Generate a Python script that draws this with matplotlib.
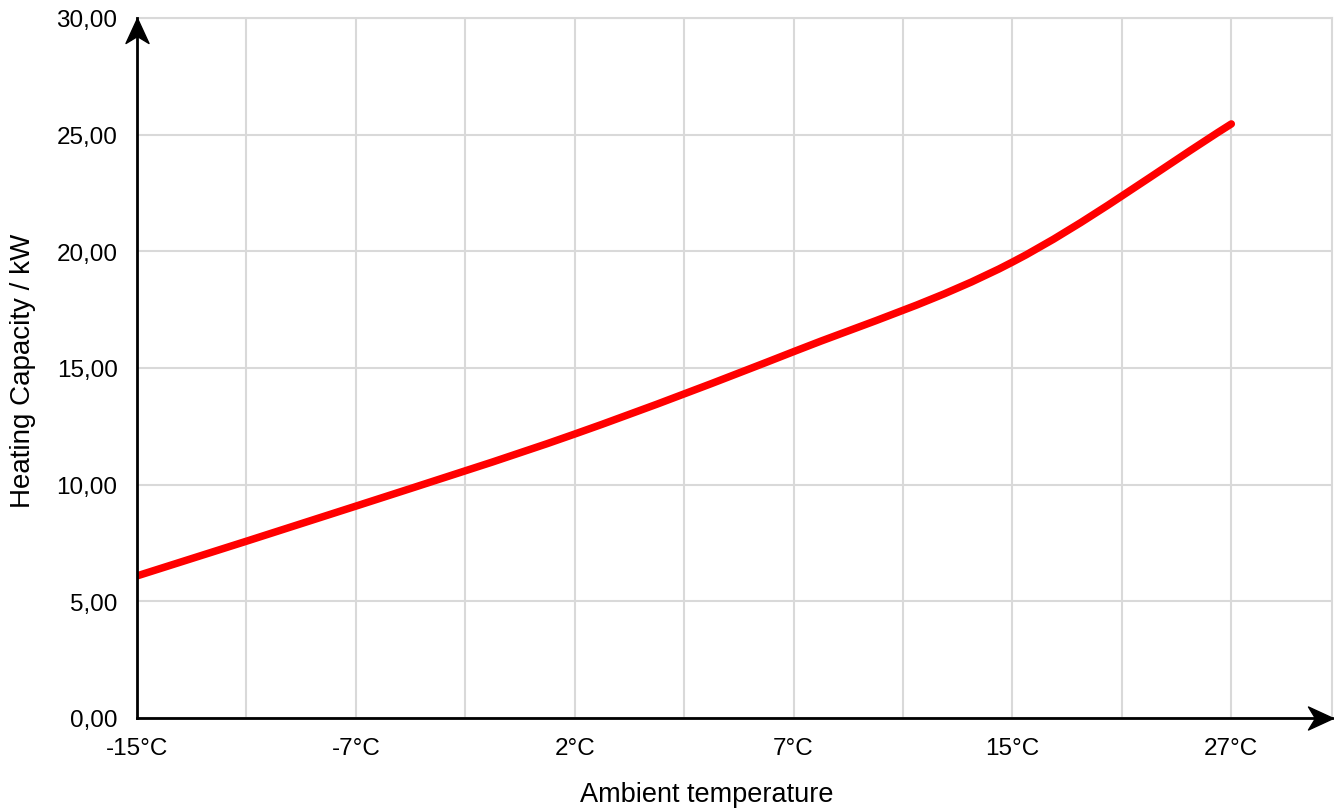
import numpy as np
import matplotlib
matplotlib.use("Agg")
import matplotlib.pyplot as plt
from matplotlib.path import Path
from matplotlib.patches import PathPatch
from matplotlib.ticker import FuncFormatter

plt.rcParams['font.family'] = ['Liberation Sans', 'DejaVu Sans']

# data
temperatures = ['-15°C', '-7°C', '2°C', '7°C', '15°C', '27°C']
capacity_kw = [6.09, 9.08, 12.17, 15.70, 19.54, 25.46]

x = np.arange(len(temperatures), dtype=float)
y = np.array(capacity_kw)

fig = plt.figure(figsize=(13.4, 8.12), dpi=100)
ax = fig.add_axes([137 / 1340, 93 / 812, (1332 - 137) / 1340, 700 / 812])

# smooth line (cubic bezier through the points)
m = np.gradient(y, x)
verts = [(x[0], y[0])]
codes = [Path.MOVETO]
for i in range(len(x) - 1):
    dx = x[i + 1] - x[i]
    verts += [(x[i] + dx / 3, y[i] + m[i] * dx / 3),
              (x[i + 1] - dx / 3, y[i + 1] - m[i + 1] * dx / 3),
              (x[i + 1], y[i + 1])]
    codes += [Path.CURVE4] * 3
line = PathPatch(Path(verts, codes), fill=False, edgecolor='#ff0000', lw=5.4, zorder=3)
line.set_capstyle('round')
ax.add_patch(line)

ax.set_xlim(0, 5.46)
ax.set_ylim(0, 30)
ax.set_xticks(x)
ax.set_xticklabels(temperatures)
ax.set_xticks(np.arange(0.5, 5.0, 1.0), minor=True)
ax.set_yticks(np.arange(0, 31, 5))
ax.yaxis.set_major_formatter(FuncFormatter(lambda v, p: f"{v:.2f}".replace('.', ',')))

ax.grid(True, which='both', color='#d9d9d9', lw=1.5)
ax.set_axisbelow(True)
ax.tick_params(which='both', length=0, labelsize=17.5, pad=14, colors='black')

for s in ['top', 'right']:
    ax.spines[s].set_color('#d9d9d9')
    ax.spines[s].set_linewidth(1.5)
for s in ['left', 'bottom']:
    ax.spines[s].set_color('black')
    ax.spines[s].set_linewidth(2)
    ax.spines[s].set_zorder(4)

# arrow heads on the axes
head_up = Path([(0, 0), (11.5, -25), (0, -18), (-11.5, -25), (0, 0)])
head_right = Path([(0, 0), (-25, 11.5), (-18, 0), (-25, -11.5), (0, 0)])
ax.plot([0], [1.0], marker=head_up, ms=36, color='black', transform=ax.transAxes,
        clip_on=False, zorder=5)
ax.plot([1.001], [0], marker=head_right, ms=36, color='black', transform=ax.transAxes,
        clip_on=False, zorder=5)

fig.text(707 / 1340, 10 / 812, 'Ambient temperature', ha='center', va='baseline', fontsize=19.5)
fig.text(23 / 1340, (812 - 371) / 812, 'Heating Capacity / kW', ha='center', va='center',
         rotation=90, fontsize=20)

fig.savefig('out.png', dpi=100)
